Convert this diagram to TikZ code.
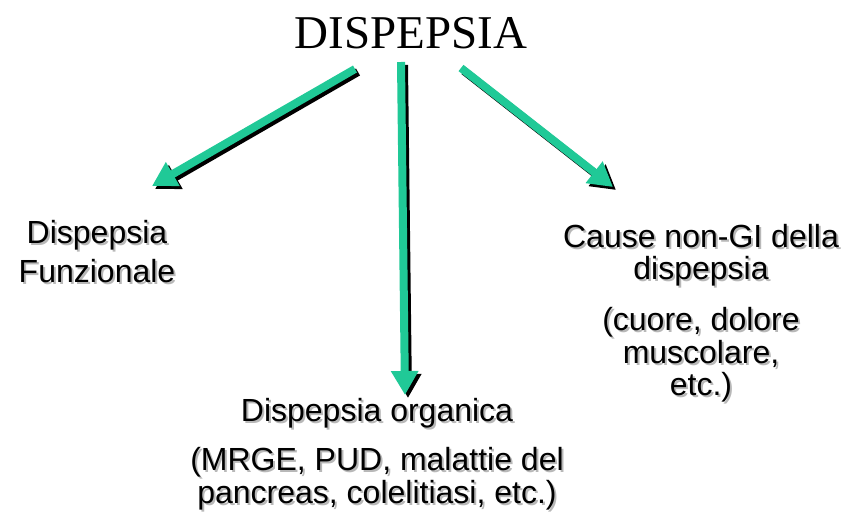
\documentclass[tikz,border=0pt]{standalone}
\usepackage{fontspec}
\setmainfont{Liberation Sans}
\newfontfamily\titlefont{Liberation Serif}
\usetikzlibrary{arrows.meta}
\definecolor{flowgreen}{RGB}{32,201,151}
% a line of text with a soft grey drop shadow behind it
\newcommand\shadowline[1]{\rlap{\kern2pt\raisebox{-2pt}{\color{black!28}#1}}#1}
\begin{document}
\begin{tikzpicture}[x=1pt,y=-1pt,
  flowarrow/.style={line width=8pt,draw=flowgreen,
    -{Triangle[length=24pt,width=26pt,fill=flowgreen]}},
  flowshadow/.style={line width=8pt,draw=black,
    -{Triangle[length=24pt,width=26pt,fill=black]},
    transform canvas={xshift=3pt,yshift=-3pt}},
  label/.style={inner sep=0pt,anchor=base,align=center,text=black,
    font=\fontsize{32}{#1}\selectfont},
]
\useasboundingbox (0,0) rectangle (844,517);

% title
\node[inner sep=0pt,anchor=base,font=\fontsize{47}{47}\titlefont] (title) at (411,48) {DISPEPSIA};

% arrow end points
\coordinate (aL) at (355,69);
\coordinate (tL) at (152,186);
\coordinate (aM) at (401,62);
\coordinate (tM) at (405,395);
\coordinate (aR) at (461,68);
\coordinate (tR) at (613,187);

% arrow shadows, then arrows
\draw[flowshadow] (aL) -- (tL);
\draw[flowshadow] (aM) -- (tM);
\draw[flowshadow] (aR) -- (tR);
\draw[flowarrow] (aL) -- (tL);
\draw[flowarrow] (aM) -- (tM);
\draw[flowarrow] (aR) -- (tR);

% branch labels, anchored at the baseline of their last line
\node[label=39] (fun) at (97,282)
  {\shadowline{Dispepsia}\\\shadowline{Funzionale}};
\node[label=31.5] (org) at (377,503)
  {\shadowline{Dispepsia organica}\\[15.5pt]\shadowline{(MRGE, PUD, malattie del}\\\shadowline{pancreas, colelitiasi, etc.)}};
\node[label=31.5] (ext) at (701,395)
  {\shadowline{Cause non-GI della}\\\shadowline{dispepsia}\\[18.5pt]\shadowline{(cuore, dolore}\\\shadowline{muscolare,}\\\shadowline{etc.)}};
\end{tikzpicture}
\end{document}
